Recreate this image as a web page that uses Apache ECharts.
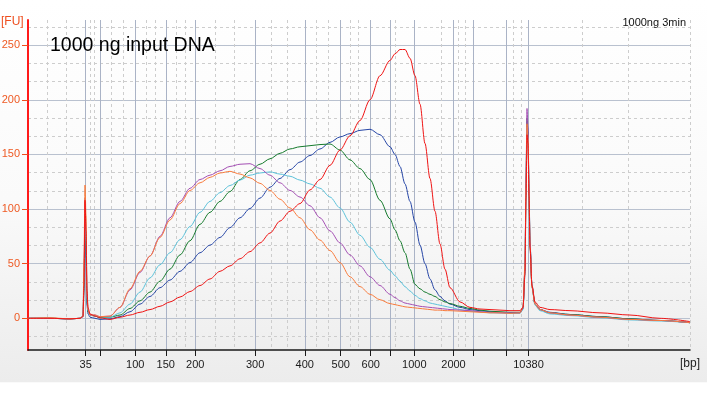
<!DOCTYPE html>
<html>
<head>
<meta charset="utf-8">
<style>
  html, body { margin: 0; padding: 0; background: #ffffff; }
  #chart { width: 707px; height: 397px; }
</style>
<script src="https://cdn.jsdelivr.net/npm/echarts@6/dist/echarts.min.js"></script>
</head>
<body>
<div id="chart"></div>
<script>
// migration time (s) of each sample point
var timeSec = [
  40, 42.2, 44.2, 45.2, 45.5, 45.6, 45.7, 45.8, 45.9, 46.0, 46.2, 46.7, 47.2,
  48.2, 49.2, 50.2, 51.2, 52.2, 53.2, 54.2, 55.2, 56.2, 57.2,
  58.2, 59.2, 60.2, 61.2, 62.2, 63.2, 64.2, 65.2, 66.2, 67.2,
  68.2, 69.2, 70.2, 71.2, 72.2, 73.2, 74.2, 75.2, 76.2,
  76.7, 77.2, 77.7, 78.2, 78.7, 79.2, 79.7, 80.2, 80.7, 81.2, 81.7, 82.2,
  83.2, 84.2, 85.2, 86.2, 87.2, 88.2, 89.2,
  89.5, 89.7, 89.8, 89.9, 90.0, 90.1, 90.2, 90.4, 90.7, 91.2,
  92.2, 94.2, 97.2, 100.2, 103.2, 106.2
];

// fluorescence [FU] per sample
var fuOrange = [
  0, 0.5, -0.5, 0, 2, 55, 122, 95, 22, 8, 3, 3, 1.5,
  2, 10, 27, 43, 57, 74, 90, 105, 117, 124,
  129, 133, 134.5, 132, 128.5, 123.5, 117, 109, 101, 92,
  81, 71.6, 62, 51, 38, 29, 22, 17, 13.5,
  12.5, 11.5, 10.5, 10, 9.5, 9, 8.5, 8, 7.5, 7.5, 7, 7,
  6.5, 6, 5.5, 5, 5, 4.5, 5,
  10, 50, 120, 178, 165, 115, 65, 28, 13, 8,
  5, 3, 1, -1, -2, -4
];
var fuPurple = [
  0, 0, -0.5, 0, 2, 40, 110, 80, 20, 8, 3, 3, 1.5,
  2, 10, 26, 42, 57, 75, 92, 107, 119, 127,
  131, 135, 139, 141, 141.5, 137, 131, 124, 117, 111,
  103, 92, 80, 69, 58, 48, 38, 30, 22,
  19, 16, 14, 13, 12, 11, 10.5, 10, 9.5, 9, 8.5, 8,
  7.5, 7, 6, 5.5, 5, 5, 5,
  9, 45, 130, 192, 175, 120, 70, 30, 13, 8,
  5, 3, 1, -1, -2, -4
];
var fuCyan = [
  0, 0, -0.5, 0, 2, 35, 95, 70, 18, 7, 3, 2, 1,
  1, 5, 13, 24, 37, 49, 60, 72, 84, 97,
  107, 115, 121.5, 126.5, 131, 133, 134, 132, 130, 126.5,
  123, 119, 111, 101, 88, 76, 65, 54, 44,
  39, 34, 29, 25, 21, 18, 16, 14, 13, 12, 11, 10,
  8, 6.5, 6, 5, 5, 4.5, 4.5,
  8, 40, 115, 175, 165, 115, 65, 28, 12, 7,
  4, 2.5, 0.5, -1.5, -2.5, -4
];
var fuGreen = [
  0, 0, -0.5, 0, 2, 30, 90, 65, 16, 6, 3, 2, 0.5,
  1, 3, 9, 16, 24, 34, 45, 58, 71, 86,
  97, 107, 116, 127, 135, 141, 146, 151, 155, 157,
  158, 159, 159.5, 154, 145, 137, 127, 108, 91,
  81, 71, 60, 45, 31, 27, 24, 22, 20, 17, 15, 13.5,
  11, 9, 7.5, 6.5, 6, 5.5, 5.5,
  9, 45, 125, 183, 170, 118, 68, 29, 13, 8,
  5, 3.5, 1.5, -0.5, -2, -4
];
var fuBlue = [
  0, 0, -0.5, 0, 1.5, 25, 75, 55, 12, 4, 1, 0, -1,
  -0.5, 1.5, 6, 13, 20, 28, 35, 43, 51, 60,
  67, 74, 83, 92, 100.5, 110, 120, 128, 136, 143,
  149, 155, 161, 166, 169, 172, 173, 168, 157,
  150, 139, 123, 107, 88, 67, 50, 36, 26, 20, 16, 13,
  10, 8, 7, 6, 5.5, 5, 5,
  9, 45, 120, 180, 170, 118, 68, 29, 13, 8,
  5.5, 3.5, 1.5, -0.5, -2, -4
];
var fuRed = [
  0, 0, -0.5, 0, 1.5, 30, 108, 80, 25, 10, 4, 2, 0.5,
  -1, 1, 3, 5.5, 8, 11, 15, 19.5, 24.5, 30,
  36, 43, 48, 54.5, 61, 69, 78, 89, 98, 105,
  117.5, 127, 140, 154, 167, 181, 200, 222, 236,
  242, 246, 246, 238, 222, 196, 160, 128, 98, 68, 45, 28,
  15, 10, 8.5, 8, 7.5, 7, 7,
  10, 40, 110, 168, 160, 112, 65, 30, 15, 10,
  8, 7, 5, 3, 0, -3
];

// ladder: size label at its migration time
var ladderTime = [45.77, 47.2, 50.73, 53.78, 56.73, 62.71, 67.68, 71.27, 74.27, 76.2, 78.63, 82.55, 84.5, 87.78, 90.05];
var ladderLabel = ['35', '', '100', '150', '200', '300', '400', '500', '600', '', '1000', '2000', '', '', '10380'];
var minorTime = [41.97, 43.87, 46.27, 46.63, 48.3, 49.53, 51.87, 52.77, 54.8, 55.7, 58.7, 60.65, 64.3, 65.97,
  68.87, 70.03, 72.2, 73.03, 76.7, 81.37, 83.03, 83.7, 88.53, 89.37, 95.43, 100.07, 106.2];
var fuTicks = [0, 50, 100, 150, 200, 250];
var fuMinorTicks = [-16.67, 16.67, 33.33, 66.67, 83.33, 116.67, 133.33, 166.67, 183.33, 216.67, 233.33, 266.67];

var chartDom = document.getElementById('chart');
var myChart = echarts.init(chartDom);
var option;

function pairs(vals) {
  return timeSec.map(function (t, i) { return [t, vals[i]]; });
}
function bpLabel(v) {
  for (var i = 0; i < ladderTime.length; i++) {
    if (Math.abs(ladderTime[i] - v) < 1e-6) return ladderLabel[i];
  }
  return '';
}
function trace(name, color, vals) {
  return {
    name: name,
    type: 'line',
    data: pairs(vals),
    showSymbol: false,
    symbol: 'none',
    smooth: 0.3,
    smoothMonotone: 'x',
    lineStyle: { color: color, width: 1 },
    itemStyle: { color: color }
  };
}

option = {
  animation: false,
  backgroundColor: new echarts.graphic.LinearGradient(0, 0, 0, 1, [
    { offset: 0, color: '#ffffff' },
    { offset: 0.5, color: '#fafafa' },
    { offset: 0.962, color: '#ececec' },
    { offset: 0.964, color: '#ffffff' },
    { offset: 1, color: '#ffffff' }
  ]),
  title: [
    {
      text: '1000 ng input DNA',
      left: 45,
      top: 31,
      textStyle: { fontFamily: 'Liberation Sans', fontSize: 19.5, fontWeight: 'normal', color: '#000' }
    },
    {
      text: '1000ng 3min',
      right: 16,
      top: 12,
      textStyle: { fontFamily: 'Liberation Sans', fontSize: 11, fontWeight: 'normal', color: '#111' }
    }
  ],
  graphic: [
    {
      type: 'text', left: 1, top: 16,
      style: { text: '[FU]', fill: '#ee4e1e', font: '12px "Liberation Sans"' }
    },
    {
      type: 'text', right: 7, top: 358,
      style: { text: '[bp]', fill: '#222', font: '12px "Liberation Sans"' }
    }
  ],
  grid: { left: 28, right: 17, top: 20, bottom: 47, outerBoundsMode: 'none' },
  xAxis: [
    {
      type: 'value',
      min: 40,
      max: 106.2,
      axisLine: { onZero: false, lineStyle: { color: '#1a1a1a', width: 1.5 } },
      axisTick: { customValues: ladderTime, length: 6, lineStyle: { color: '#1a1a1a' } },
      axisLabel: {
        customValues: ladderTime,
        formatter: bpLabel,
        color: '#1a1a1a',
        fontFamily: 'Liberation Sans',
        fontSize: 11,
        margin: 9
      },
      splitLine: { show: true, lineStyle: { color: '#aab3c6', width: 1 } }
    },
    {
      type: 'value',
      position: 'top',
      min: 40,
      max: 106.2,
      axisLine: { show: false, onZero: false },
      axisTick: { show: false, customValues: minorTime },
      axisLabel: { show: false, customValues: minorTime },
      splitLine: { show: true, lineStyle: { color: '#cdcdcd', type: [3, 3], width: 1 } }
    }
  ],
  yAxis: [
    {
      type: 'value',
      min: -29,
      max: 273,
      axisLine: { show: true, onZero: false, lineStyle: { color: '#ff1a1a', width: 2 } },
      axisTick: { show: true, customValues: fuTicks, length: 6, lineStyle: { color: '#ee4e1e' } },
      axisLabel: {
        customValues: fuTicks,
        color: '#ee5a24',
        fontFamily: 'Liberation Sans',
        fontSize: 11,
        margin: 8
      },
      splitLine: { show: true, lineStyle: { color: '#b9c1cf', width: 1 } }
    },
    {
      type: 'value',
      position: 'right',
      min: -29,
      max: 273,
      axisLine: { show: false, onZero: false },
      axisTick: { show: false, customValues: fuMinorTicks },
      axisLabel: { show: false, customValues: fuMinorTicks },
      splitLine: { show: true, lineStyle: { color: '#cdcdcd', type: [3, 3], width: 1 } }
    }
  ],
  series: [
    trace('blue', '#2545a6', fuBlue),
    trace('green', '#157a2c', fuGreen),
    trace('cyan', '#5cc2da', fuCyan),
    trace('purple', '#a44fb4', fuPurple),
    trace('orange', '#f97b3c', fuOrange),
    trace('red', '#f01414', fuRed)
  ]
};

option && myChart.setOption(option);
</script>
</body>
</html>
